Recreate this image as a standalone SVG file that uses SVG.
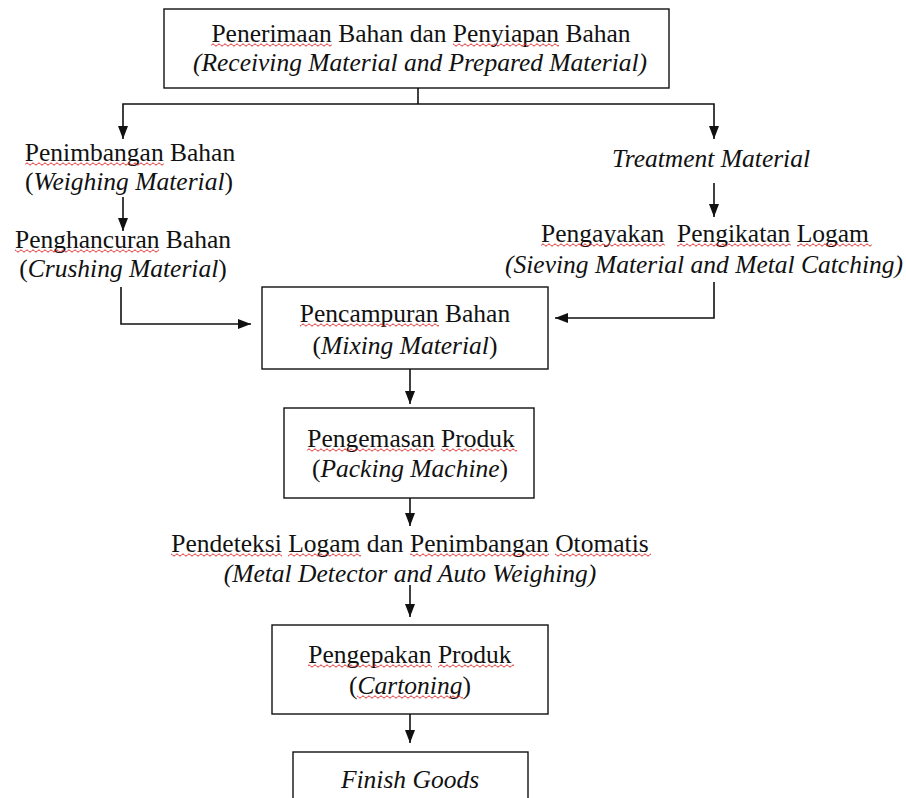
<svg xmlns="http://www.w3.org/2000/svg" width="906" height="798" viewBox="0 0 906 798">
<style>
  .box { fill: #fff; stroke: #111; stroke-width: 1.4; }
  .t { font-size: 25.5px; fill: #111; text-anchor: middle; }
  .i { font-style: italic; }
  .sq { fill: url(#squig); }
  .c { fill: none; stroke: #111; stroke-width: 1.6; }
  .a { marker-end: url(#arr); }
</style>
<defs>
  <marker id="arr" markerUnits="userSpaceOnUse" markerWidth="14" markerHeight="12" refX="13" refY="6" orient="auto">
    <path d="M0,1 L13,6 L0,11 z" fill="#111"/>
  </marker>
  <pattern id="squig" patternUnits="userSpaceOnUse" width="6" height="4">
    <path d="M0,3 C1.5,3 1.5,1 3,1 C4.5,1 4.5,3 6,3" fill="none" stroke="#e02020" stroke-width="1"/>
  </pattern>
</defs>
<rect width="906" height="798" fill="#fff"/>

<g id="connectors">
  <path class="c" d="M418,88 V104"/>
  <path class="c a" d="M418,104 H123 V139"/>
  <path class="c a" d="M418,104 H714 V139"/>
  <path class="c a" d="M123,197 V231"/>
  <path class="c a" d="M121,287 V324 H251"/>
  <path class="c a" d="M714,183 V217"/>
  <path class="c a" d="M714,282 V318 H555"/>
  <path class="c a" d="M410,369 V404"/>
  <path class="c a" d="M410,498 V526"/>
  <path class="c a" d="M410,585 V617"/>
  <path class="c a" d="M410,714 V743"/>
</g>

<g font-family="Liberation Serif, DejaVu Serif, serif">
<g id="receiving">
  <rect class="box" x="164" y="9" width="505" height="79"/>
  <text class="t" x="421" y="42">Penerimaan Bahan dan Penyiapan Bahan</text>
  <text class="t i" x="420" y="71">(Receiving Material and Prepared Material)</text>
  <rect class="sq" transform="translate(0,43)" x="211" y="0" width="121" height="4"/>
  <rect class="sq" transform="translate(0,43)" x="453" y="0" width="106" height="4"/>
</g>

<g id="weighing">
  <text class="t" x="130" y="161">Penimbangan Bahan</text>
  <text class="t" x="129" y="190">(<tspan class="i">Weighing Material</tspan>)</text>
  <rect class="sq" transform="translate(0,162)" x="25" y="0" width="139" height="4"/>
</g>

<g id="crushing">
  <text class="t" x="123" y="248">Penghancuran Bahan</text>
  <text class="t" x="123" y="277">(<tspan class="i">Crushing Material</tspan>)</text>
  <rect class="sq" transform="translate(0,249)" x="15" y="0" width="144" height="4"/>
</g>

<g id="treatment">
  <text class="t i" x="711" y="167">Treatment Material</text>
</g>

<g id="sieving">
  <text class="t" x="705" y="242" xml:space="preserve">Pengayakan  Pengikatan Logam</text>
  <text class="t i" x="704" y="273">(Sieving Material and Metal Catching)</text>
  <rect class="sq" transform="translate(0,243)" x="541" y="0" width="124" height="4"/>
  <rect class="sq" transform="translate(0,243)" x="677" y="0" width="114" height="4"/>
  <rect class="sq" transform="translate(0,243)" x="797" y="0" width="75" height="4"/>
</g>

<g id="mixing">
  <rect class="box" x="262" y="287" width="286" height="82"/>
  <text class="t" x="405" y="322">Pencampuran Bahan</text>
  <text class="t" x="405" y="354">(<tspan class="i">Mixing Material</tspan>)</text>
  <rect class="sq" transform="translate(0,323)" x="300" y="0" width="139" height="4"/>
</g>

<g id="packing">
  <rect class="box" x="284" y="408" width="250" height="90"/>
  <text class="t" x="411" y="447">Pengemasan Produk</text>
  <text class="t" x="410" y="477">(<tspan class="i">Packing Machine</tspan>)</text>
  <rect class="sq" transform="translate(0,448)" x="307" y="0" width="128" height="4"/>
  <rect class="sq" transform="translate(0,448)" x="441" y="0" width="76" height="4"/>
</g>

<g id="detector">
  <text class="t" x="410" y="552">Pendeteksi Logam dan Penimbangan Otomatis</text>
  <text class="t i" x="410" y="582">(Metal Detector and Auto Weighing)</text>
  <rect class="sq" transform="translate(0,553)" x="171" y="0" width="111" height="4"/>
  <rect class="sq" transform="translate(0,553)" x="288" y="0" width="73" height="4"/>
  <rect class="sq" transform="translate(0,553)" x="410" y="0" width="139" height="4"/>
  <rect class="sq" transform="translate(0,553)" x="555" y="0" width="96" height="4"/>
</g>

<g id="cartoning">
  <rect class="box" x="272" y="625" width="276" height="89"/>
  <text class="t" x="410" y="663">Pengepakan Produk</text>
  <text class="t" x="410" y="694">(<tspan class="i">Cartoning</tspan>)</text>
  <rect class="sq" transform="translate(0,664)" x="308" y="0" width="124" height="4"/>
  <rect class="sq" transform="translate(0,664)" x="438" y="0" width="76" height="4"/>
  <rect class="sq" transform="translate(0,695)" x="357" y="0" width="106" height="4"/>
</g>

<g id="finish">
  <rect class="box" x="293" y="752" width="235" height="60"/>
  <text class="t i" x="410" y="788">Finish Goods</text>
</g>
</g>
</svg>
